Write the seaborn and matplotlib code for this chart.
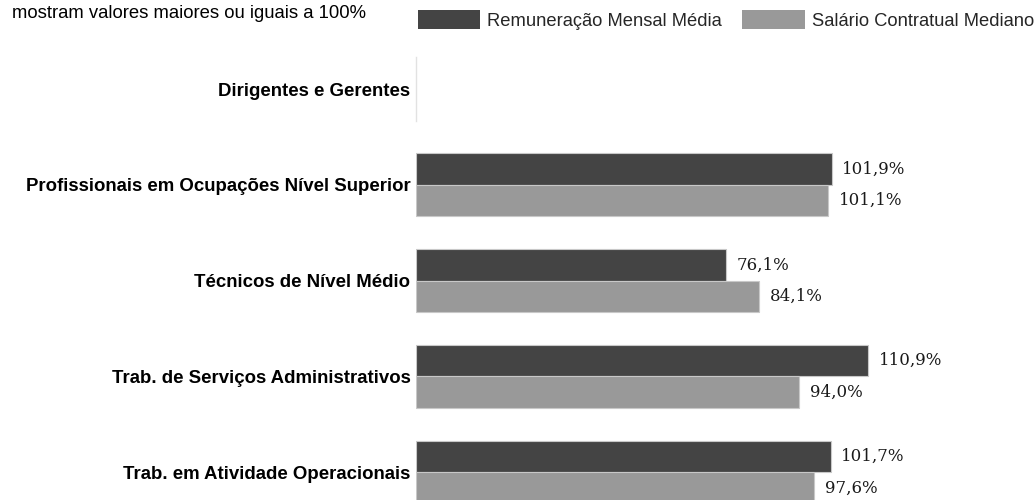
import matplotlib
matplotlib.use("Agg")
import matplotlib.pyplot as plt
import numpy as np
import pandas as pd
import seaborn as sns

sns.set_theme(style='white')
plt.rcParams['font.family'] = ['Liberation Sans', 'DejaVu Sans']

# Data
categories = ['Dirigentes e Gerentes',
              'Profissionais em Ocupações Nível Superior',
              'Técnicos de Nível Médio',
              'Trab. de Serviços Administrativos',
              'Trab. em Atividade Operacionais']
series = ['Remuneração Mensal Média', 'Salário Contratual Mediano']
remuneracao = [np.nan, 101.9, 76.1, 110.9, 101.7]
salario = [np.nan, 101.1, 84.1, 94.0, 97.6]
note = 'mostram valores maiores ou iguais a 100%'

df = pd.DataFrame({
    'Categoria': categories * 2,
    'Série': [series[0]] * len(categories) + [series[1]] * len(categories),
    'Valor': remuneracao + salario,
})

palette = {series[0]: '#444444', series[1]: '#999999'}

fig = plt.figure(figsize=(10.36, 5.0), dpi=100)
ax = fig.add_axes([416 / 1036, 0.0, 1 - 416 / 1036, 1.0])

sns.barplot(data=df, x='Valor', y='Categoria', hue='Série', order=categories,
            hue_order=series, palette=palette, orient='h', width=0.66,
            edgecolor='#c8c8c8', linewidth=0.8, saturation=1, ax=ax,
            legend=False)

for c in ax.containers:
    ax.bar_label(c, fmt=lambda v: f"{v:.1f}%".replace('.', ','), padding=7.5,
                 fontsize=12, family='DejaVu Serif', color='#1a1a1a')

ax.set_xlim(0, 152)
ax.set_ylim(4.29, -0.93)
ax.set_xlabel('')
ax.set_ylabel('')
ax.set_xticks([])
ax.tick_params(axis='y', length=0, pad=4)
for lab in ax.get_yticklabels():
    lab.set_fontweight('bold')
    lab.set_fontsize(13.4)
    lab.set_color('black')
    lab.set_verticalalignment('center_baseline')
for s in ['top', 'right', 'bottom']:
    ax.spines[s].set_visible(False)
ax.spines['left'].set_color('#e2e2e2')
ax.spines['left'].set_linewidth(1)
ax.spines['left'].set_bounds(-0.33, 0.33)

handles = [plt.Rectangle((0, 0), 1, 1, facecolor=palette[s], edgecolor='none')
           for s in series]
fig.legend(handles, series, loc='center left',
           bbox_to_anchor=(418 / 1036, 1 - 20 / 500), ncol=2, frameon=False,
           fontsize=13.2, handlelength=3.4, handleheight=1.2,
           handletextpad=0.38, columnspacing=1.1, borderpad=0,
           borderaxespad=0)

fig.text(12 / 1036, 1 - 14 / 500, note, ha='left', va='center', fontsize=13.3,
         color='black')

fig.savefig('out.png', dpi=100)
